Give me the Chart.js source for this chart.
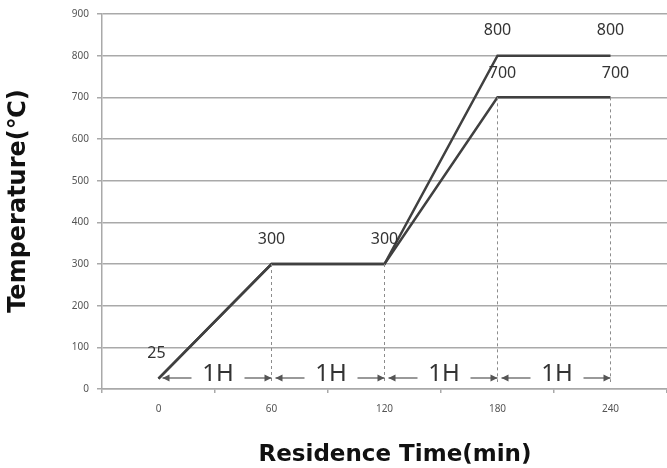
<!DOCTYPE html>
<html>
<head>
<meta charset="utf-8">
<script src="https://cdn.jsdelivr.net/npm/chart.js@4"></script>
<style>
  html, body { margin: 0; padding: 0; background: #fff; }
  #wrap { width: 667px; height: 468px; }
</style>
</head>
<body>
<div id="wrap"><canvas id="chart" width="667" height="468"></canvas></div>
<script>
// Data
const timeLabels = ['0', '60', '120', '180', '240'];
const temp800 = [25, 300, 300, 800, 800];
const temp700 = [25, 300, 300, 700, 700];
const yTicks = [0, 100, 200, 300, 400, 500, 600, 700, 800, 900];
const stepLabel = '1H';

const LINE = '#404040';
const GRID = '#a9a9a9';

// value labels above points, dashed drop lines, 1H arrows, axis titles
const annotate = {
    id: 'annotate',
    afterDatasetsDraw(chart) {
        const ctx = chart.ctx;
        const x = chart.scales.x, y = chart.scales.y;
        const base = y.getPixelForValue(0);
        const rowY = base - 11;

        ctx.save();
        // dashed drop lines from each plateau point
        ctx.strokeStyle = '#8c8c8c';
        ctx.lineWidth = 1;
        ctx.setLineDash([3, 3]);
        for (let i = 1; i < timeLabels.length; i++) {
            const px = x.getPixelForValue(i);
            const top = y.getPixelForValue(Math.min(temp800[i], temp700[i]));
            ctx.beginPath();
            ctx.moveTo(px, top);
            ctx.lineTo(px, rowY + 4);
            ctx.stroke();
        }
        ctx.setLineDash([]);

        // value labels
        ctx.fillStyle = '#333';
        ctx.font = '16px "Noto Sans", sans-serif';
        ctx.textAlign = 'center';
        ctx.textBaseline = 'middle';
        temp800.forEach((v, i) => {
            const dx = i === 0 ? -2 : 0;
            ctx.fillText(String(v), x.getPixelForValue(i) + dx, y.getPixelForValue(v) - 25);
        });
        temp700.forEach((v, i) => {
            if (v === temp800[i]) return;
            ctx.fillText(String(v), x.getPixelForValue(i) + 5, y.getPixelForValue(v) - 24);
        });

        // 1H arrows between consecutive times
        const arrow = (x1, x2) => {
            ctx.beginPath();
            ctx.moveTo(x1, rowY);
            ctx.lineTo(x2, rowY);
            ctx.stroke();
            const d = x2 > x1 ? -1 : 1;
            ctx.beginPath();
            ctx.moveTo(x2, rowY);
            ctx.lineTo(x2 + d * 7, rowY - 3.5);
            ctx.lineTo(x2 + d * 7, rowY + 3.5);
            ctx.closePath();
            ctx.fill();
        };
        ctx.strokeStyle = '#555';
        ctx.fillStyle = '#555';
        ctx.lineWidth = 1.2;
        for (let i = 0; i < timeLabels.length - 1; i++) {
            const a = x.getPixelForValue(i), b = x.getPixelForValue(i + 1);
            arrow(a + 33, a + 4);
            arrow(b - 27, b);
        }
        ctx.fillStyle = '#333';
        ctx.font = '24px "Noto Sans", sans-serif';
        for (let i = 0; i < timeLabels.length - 1; i++) {
            const a = x.getPixelForValue(i), b = x.getPixelForValue(i + 1);
            ctx.fillText(stepLabel, (a + b) / 2 + 3, rowY - 4);
        }

        // axis titles
        ctx.fillStyle = '#111';
        ctx.font = 'bold 23px "DejaVu Sans", sans-serif';
        ctx.fillText('Residence Time(min)', 395, 455);
        ctx.translate(19, 201);
        ctx.rotate(-Math.PI / 2);
        ctx.font = 'bold 24px "DejaVu Sans", sans-serif';
        ctx.fillText('Temperature(℃)', 0, 0);
        ctx.restore();
    }
};

new Chart(document.getElementById('chart'), {
    type: 'line',
    data: {
        labels: timeLabels,
        datasets: [
            { data: temp800, borderColor: LINE, borderWidth: 2.5, pointRadius: 0, tension: 0 },
            { data: temp700, borderColor: LINE, borderWidth: 2.5, pointRadius: 0, tension: 0 }
        ]
    },
    options: {
        responsive: false,
        animation: false,
        layout: { padding: { top: 12, right: 0, left: 0, bottom: 0 } },
        plugins: { legend: { display: false }, tooltip: { enabled: false } },
        scales: {
            x: {
                type: 'category',
                offset: true,
                afterFit: s => { s.height = 79; },
                grid: { offset: true, drawOnChartArea: false, tickLength: 4, color: GRID, lineWidth: 1.5 },
                border: { color: GRID, width: 1.5 },
                ticks: { color: '#555', font: { family: 'Noto Sans', size: 10 }, padding: 10, maxRotation: 0 }
            },
            y: {
                min: 0,
                max: 900,
                afterFit: s => { s.width = 102; },
                afterBuildTicks: s => { s.ticks = yTicks.map(v => ({ value: v })); },
                grid: { color: GRID, lineWidth: 1.5, tickLength: 5 },
                border: { color: GRID, width: 1.5 },
                ticks: { color: '#555', font: { family: 'Noto Sans', size: 10 }, padding: 8 }
            }
        }
    },
    plugins: [annotate]
});
</script>
</body>
</html>
